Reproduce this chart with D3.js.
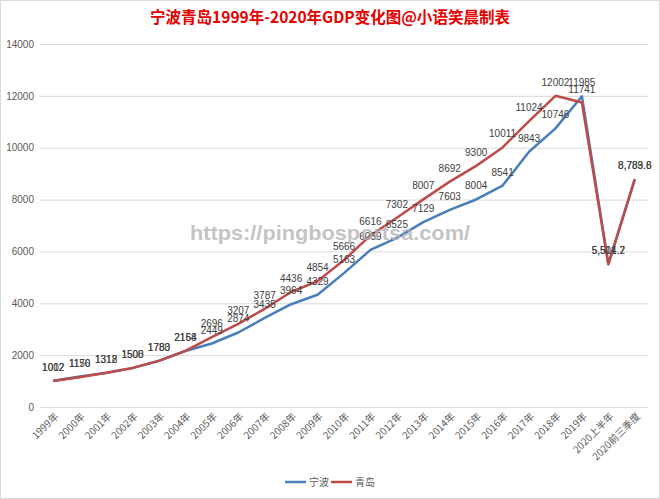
<!DOCTYPE html>
<html><head><meta charset="utf-8">
<script src="https://cdn.jsdelivr.net/npm/d3@7"></script>
<style>body{margin:0;background:#fff}svg{display:block}</style>
</head><body>
<svg id="c" width="660" height="499"></svg>
<script>
const categories = ["1999年","2000年","2001年","2002年","2003年","2004年","2005年","2006年","2007年","2008年","2009年","2010年","2011年","2012年","2013年","2014年","2015年","2016年","2017年","2018年","2019年","2020上半年","2020前三季度"];
const ningbo = [1012,1176,1312,1500,1783,2158,2449,2874,3435,3964,4329,5163,6059,6525,7129,7603,8004,8541,9843,10746,11985,5514.7,8783.6];
const qingdao = [1002,1150,1318,1508,1780,2164,2696,3207,3787,4436,4854,5666,6616,7302,8007,8692,9300,10011,11024,12002,11741,5501.2,8789.8];
const seriesNames = ["宁波","青岛"];
const yTicks = [0,2000,4000,6000,8000,10000,12000,14000];
const titleText = "宁波青岛1999年-2020年GDP变化图@小语笑晨制表";
const watermark = "https://pingbosportsa.com/";

const colors = ["#4a7ebb","#be4b48"];
const svg = d3.select("#c");
const font = "'Noto Sans CJK SC','Liberation Sans',sans-serif";

svg.append("rect").attr("x",0.5).attr("y",0.5).attr("width",659).attr("height",498)
  .attr("fill","#fff").attr("stroke","#d9d9d9");

const x = d3.scaleBand().domain(categories).range([40,648]);
const y = d3.scaleLinear().domain([0,14000]).range([407,44]);

// gridlines
svg.append("g").selectAll("line").data(yTicks).join("line")
  .attr("x1",40).attr("x2",648).attr("y1",d=>y(d)+0.5).attr("y2",d=>y(d)+0.5)
  .attr("stroke","#d9d9d9").attr("stroke-width",1);

// y axis
const ya = svg.append("g").attr("transform","translate(40,0)")
  .call(d3.axisLeft(y).tickValues(yTicks).tickSize(0).tickPadding(6).tickFormat(d3.format("d")));
ya.select(".domain").remove();
ya.selectAll("text").attr("fill","#595959").style("font-family","'Liberation Sans',sans-serif").style("font-size","10px");

// x axis
const xa = svg.append("g").attr("transform","translate(0,407)")
  .call(d3.axisBottom(x).tickSize(0).tickPadding(0));
xa.select(".domain").attr("stroke","#d9d9d9");
xa.selectAll("text").attr("fill","#595959").style("font-family",font).style("font-size","10px")
  .attr("text-anchor","end").attr("dy",0).attr("y",0)
  .attr("transform","translate(6,10) rotate(-45)");

// lines
const line = d3.line().x((d,i)=>x(categories[i])+x.bandwidth()/2).y(d=>y(d));
[ningbo,qingdao].forEach((s,k)=>{
  svg.append("path").datum(s).attr("d",line).attr("fill","none")
    .attr("stroke",colors[k]).attr("stroke-width",2.5).attr("stroke-linejoin","round");
});

// data labels
const fmt = (d,i)=> i>=21 ? d3.format(",.1f")(d) : d3.format("d")(Math.round(d));
[ningbo,qingdao].forEach((s,k)=>{
  svg.append("g").selectAll("text").data(s).join("text")
    .attr("x",(d,i)=>x(categories[i])+x.bandwidth()/2)
    .attr("y",d=>y(d)-10)
    .attr("text-anchor","middle")
    .attr("fill","#404040").style("font-family","'Liberation Sans',sans-serif").style("font-size","10px")
    .text((d,i)=>fmt(d,i));
});

// title
svg.append("text").attr("x",330).attr("y",23).attr("text-anchor","middle")
  .attr("fill","#e60000").style("font-family",font).style("font-weight","bold").style("font-size","16px")
  .attr("textLength",360).attr("lengthAdjust","spacingAndGlyphs")
  .text(titleText);

// legend
const lg = svg.append("g");
const legendItems = [{x:285,tx:309},{x:331,tx:355}];
seriesNames.forEach((n,k)=>{
  lg.append("line").attr("x1",legendItems[k].x).attr("x2",legendItems[k].x+21)
    .attr("y1",482).attr("y2",482).attr("stroke",colors[k]).attr("stroke-width",2.5);
  lg.append("text").attr("x",legendItems[k].tx).attr("y",486).attr("fill","#595959")
    .style("font-family",font).style("font-size","10px").text(n);
});

// watermark
svg.append("text").attr("x",330).attr("y",240).attr("text-anchor","middle")
  .attr("fill","#b4b4b4").attr("fill-opacity",0.8)
  .style("font-family","'Liberation Sans',sans-serif").style("font-weight","bold").style("font-size","21px")
  .attr("textLength",280).attr("lengthAdjust","spacingAndGlyphs")
  .text(watermark);
</script>
</body></html>
